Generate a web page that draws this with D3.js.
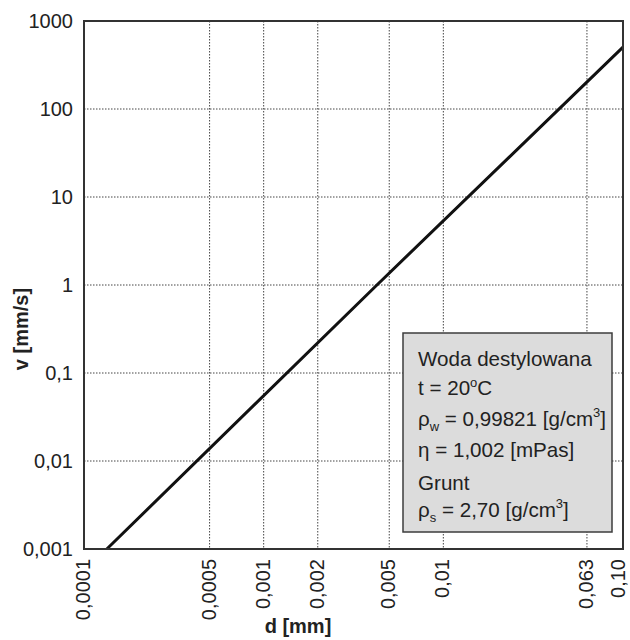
<!DOCTYPE html>
<html>
<head>
<meta charset="utf-8">
<script src="https://cdn.jsdelivr.net/npm/d3@7"></script>
<style>
  html, body { margin: 0; padding: 0; background: #fff; }
  svg { display: block; font-family: "Liberation Sans", Arial, sans-serif; }
</style>
</head>
<body>
<svg id="chart" width="630" height="640"></svg>
<script>
// ---- data ----
const dTicks = [0.0001, 0.0005, 0.001, 0.002, 0.005, 0.01, 0.063, 0.1];
const dTickLabels = ["0,0001", "0,0005", "0,001", "0,002", "0,005", "0,01", "0,063", "0,10"];
const vTicks = [0.001, 0.01, 0.1, 1, 10, 100, 1000];
const vTickLabels = ["0,001", "0,01", "0,1", "1", "10", "100", "1000"];
const dValues = [0.000134, 0.00427, 0.1];
const vValues = [0.001, 1, 505];
const xTitle = "d [mm]";
const yTitle = "v [mm/s]";

// ---- layout ----
const W = 630;
const svg = d3.select("#chart");
const L = 84, R = 623, T = 21, B = 549;
const x = d3.scaleLog().domain([0.0001, 0.1]).range([L, R]);
const y = d3.scaleLog().domain([0.001, 1000]).range([B, T]);

// grid
const gx = dTicks.slice(1, -1);
const gy = vTicks.slice(1, -1);
svg.append("g").selectAll("line").data(gx).join("line")
  .attr("x1", d => x(d)).attr("x2", d => x(d))
  .attr("y1", T).attr("y2", B)
  .attr("stroke", "#444").attr("stroke-width", 1).attr("stroke-dasharray", "1.5,1.5");
svg.append("g").selectAll("line").data(gy).join("line")
  .attr("x1", L).attr("x2", R)
  .attr("y1", d => y(d)).attr("y2", d => y(d))
  .attr("stroke", "#444").attr("stroke-width", 1).attr("stroke-dasharray", "1.5,1.5");

// legend box
const bx = 403, by = 333, bw = 209, bh = 199;
svg.append("rect").attr("x", bx).attr("y", by).attr("width", bw).attr("height", bh)
  .attr("fill", "#dcdcdc").attr("stroke", "#3c3c3c").attr("stroke-width", 1.5);

const tx = 418;
const fs = 20;
const bfs = 20.6;
function line(yy) {
  return svg.append("text").attr("x", tx).attr("y", yy)
    .attr("font-size", bfs).attr("fill", "#222");
}
line(366).text("Woda destylowana");
{
  const t = line(395);
  t.append("tspan").text("t = 20");
  t.append("tspan").attr("font-size", 13).attr("dy", -8).text("o");
  t.append("tspan").attr("dy", 8).text("C");
}
{
  const t = line(426);
  t.append("tspan").text("\u03C1");
  t.append("tspan").attr("font-size", 13).attr("dy", 5).text("w");
  t.append("tspan").attr("dy", -5).text(" = 0,99821 [g/cm");
  t.append("tspan").attr("font-size", 13).attr("dy", -9).text("3");
  t.append("tspan").attr("dy", 9).text("]");
}
line(457).text("\u03B7 = 1,002 [mPas]");
line(490).text("Grunt");
{
  const t = line(517);
  t.append("tspan").text("\u03C1");
  t.append("tspan").attr("font-size", 13).attr("dy", 5).text("s");
  t.append("tspan").attr("dy", -5).text(" = 2,70 [g/cm");
  t.append("tspan").attr("font-size", 13).attr("dy", -9).text("3");
  t.append("tspan").attr("dy", 9).text("]");
}

// data line
const lineGen = d3.line().x(d => x(d[0])).y(d => y(d[1]));
svg.append("path")
  .datum(dValues.map((d, i) => [d, vValues[i]]))
  .attr("d", lineGen)
  .attr("fill", "none").attr("stroke", "#111").attr("stroke-width", 3);

// frame
svg.append("rect").attr("x", L).attr("y", T).attr("width", R - L).attr("height", B - T)
  .attr("fill", "none").attr("stroke", "#333").attr("stroke-width", 2);

// y tick labels
svg.append("g").selectAll("text").data(vTicks).join("text")
  .attr("x", 73).attr("y", d => y(d)).attr("dy", "0.36em")
  .attr("text-anchor", "end").attr("font-size", fs).attr("fill", "#222")
  .text((d, i) => vTickLabels[i]);

// x tick labels (rotated); keep the full text box inside the page
const descent = 0.22 * fs;
svg.append("g").selectAll("text").data(dTicks).join("text")
  .attr("transform", d => {
    const px = Math.min(x(d), W - 1 - descent - 0.3 * fs);
    return `translate(${px},559) rotate(-90)`;
  })
  .attr("dy", "0.3em")
  .attr("text-anchor", "end").attr("font-size", fs).attr("fill", "#222")
  .text((d, i) => dTickLabels[i]);

// axis titles
svg.append("text").attr("x", 298).attr("y", 633)
  .attr("text-anchor", "middle").attr("font-size", fs).attr("font-weight", "bold")
  .attr("fill", "#222").text(xTitle);
svg.append("text").attr("transform", "translate(28,329) rotate(-90)")
  .attr("text-anchor", "middle").attr("font-size", fs).attr("font-weight", "bold")
  .attr("fill", "#222").text(yTitle);
</script>
</body>
</html>
